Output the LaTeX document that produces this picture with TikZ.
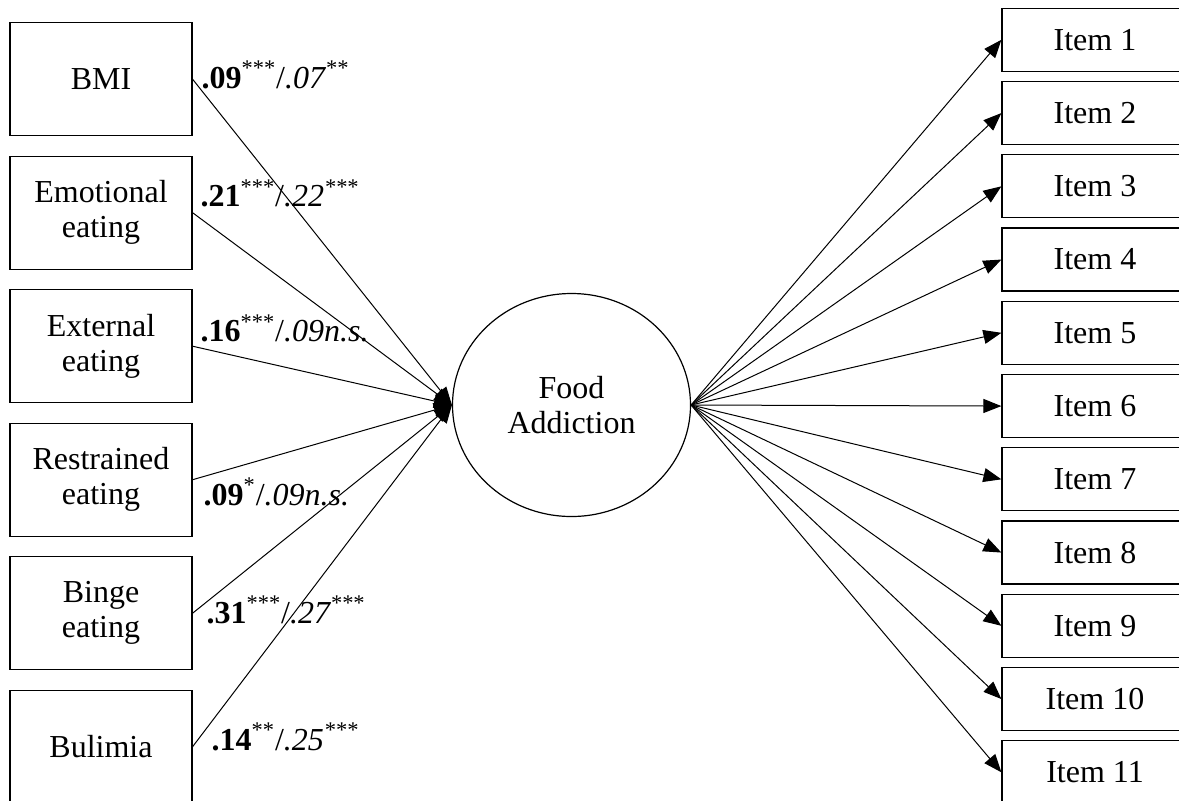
\documentclass[tikz,border=0pt]{standalone}
\usepackage{fontspec}
\setmainfont{Liberation Serif}
\usetikzlibrary{arrows.meta,shapes.geometric}
\begin{document}
\begin{tikzpicture}[x=0.5pt,y=-0.5pt,line width=0.6pt,
        font=\fontsize{16}{17.5}\selectfont,
        pred/.style={draw,minimum width=91pt,minimum height=56.5pt,align=center,inner sep=0},
        item/.style={draw,minimum width=93pt,minimum height=31.5pt,inner sep=0},
        arr/.style={-{Triangle[length=9pt,width=7pt]},line width=0.5pt},
        coef/.style={anchor=base west,inner sep=0}]
    \useasboundingbox (0,0) rectangle (1179,800);
    % predictors
    \node[pred] (bmi) at (101,79.2) {BMI};
    \node[pred] (emo) at (101,212.7) {Emotional\\eating};
    \node[pred] (ext) at (101,346.2) {External\\eating};
    \node[pred] (res) at (101,479.7) {Restrained\\eating};
    \node[pred] (bin) at (101,613.2) {Binge\\eating};
    \node[pred] (bul) at (101,746.7) {Bulimia};
    % latent
    \node[draw,ellipse,minimum width=119pt,minimum height=111.5pt,inner sep=0,align=center] (fa) at (571.5,405) {Food\\Addiction};
    \foreach \n in {bmi,emo,ext,res,bin,bul}
        \draw[arr] (\n.east) -- (fa.west);
    % indicators
    \foreach \i in {1,...,11} {
        \node[item] (it\i) at (1095,{39.8+73.25*(\i-1)}) {Item \i};
        \draw[arr] (fa.east) -- (it\i.west);
    }
    % coefficients
    \node[coef] (c1) at (201,88) {\textbf{.09}\textsuperscript{***}/\textit{.07\textsuperscript{**}}};
    \node[coef] (c2) at (200,206.7) {\textbf{.21}\textsuperscript{***}/\textit{.22\textsuperscript{***}}};
    \node[coef] (c3) at (200,341.7) {\textbf{.16}\textsuperscript{***}/\textit{.09n.s.}};
    \node[coef] (c4) at (203,505) {\textbf{.09}\textsuperscript{*}/\textit{.09n.s.}};
    \node[coef] (c5) at (206,623.3) {\textbf{.31}\textsuperscript{***}/\textit{.27\textsuperscript{***}}};
    \node[coef] (c6) at (211,750) {\textbf{.14}\textsuperscript{**}/\textit{.25\textsuperscript{***}}};
\end{tikzpicture}
\end{document}
